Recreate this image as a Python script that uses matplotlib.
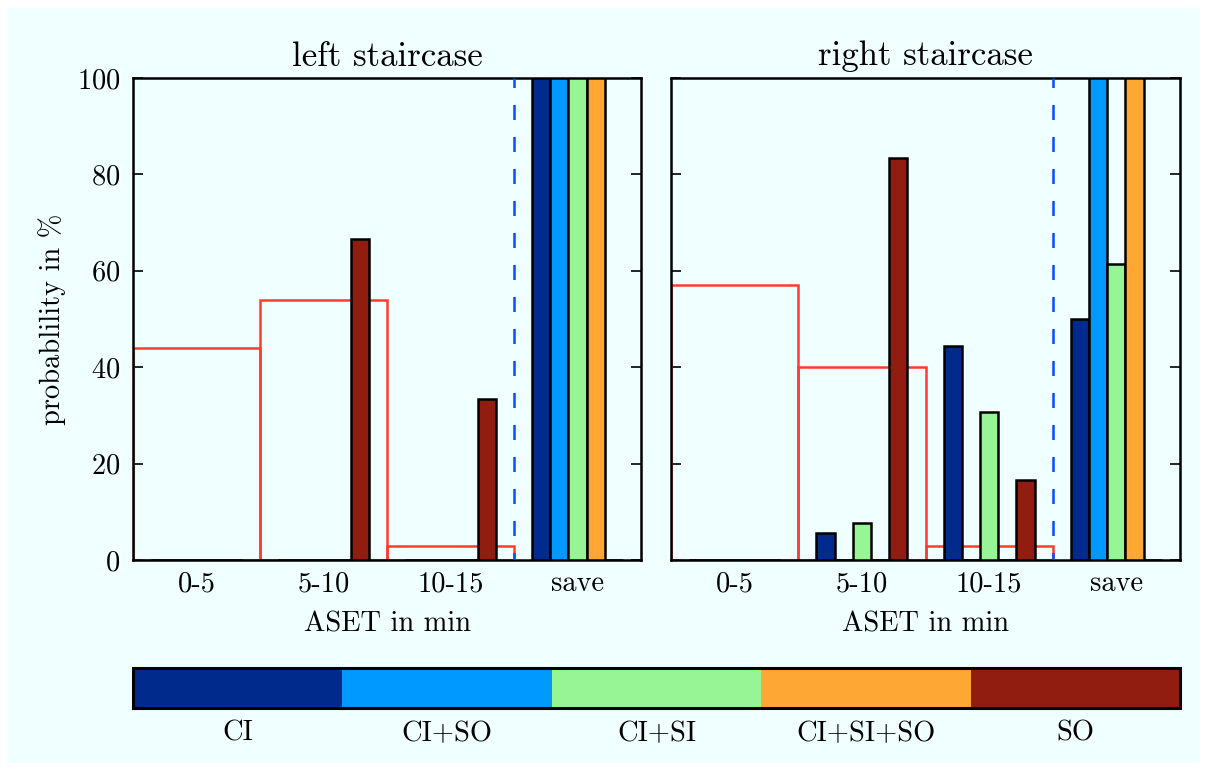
import matplotlib
matplotlib.use("Agg")
import matplotlib.pyplot as plt
import numpy as np
from matplotlib.colors import ListedColormap, BoundaryNorm
from matplotlib.colorbar import ColorbarBase
from matplotlib.patches import Rectangle

plt.rcParams['font.family'] = ['cmr10', 'DejaVu Serif']
plt.rcParams['mathtext.fontset'] = 'cm'
plt.rcParams['axes.formatter.use_mathtext'] = True

# ---- data ----
categories = ["0-5", "5-10", "10-15", "save"]
series = ["CI", "CI+SO", "CI+SI", "CI+SI+SO", "SO"]
colors = ["#002a8c", "#0099ff", "#97f596", "#ffa735", "#911d10"]

left_red = [44, 54, 3]
right_red = [57, 40, 3]

left_vals = {
    "CI":       [0, 0, 0, 100],
    "CI+SO":    [0, 0, 0, 100],
    "CI+SI":    [0, 0, 0, 100],
    "CI+SI+SO": [0, 0, 0, 100],
    "SO":       [0, 66.7, 33.3, 0],
}
right_vals = {
    "CI":       [0, 5.6, 44.4, 50],
    "CI+SO":    [0, 0, 0, 100],
    "CI+SI":    [0, 7.7, 30.8, 61.5],
    "CI+SI+SO": [0, 0, 0, 100],
    "SO":       [0, 83.3, 16.7, 0],
}
titles = ["left staircase", "right staircase"]
yticks = [0, 20, 40, 60, 80, 100]

W, H = 1207, 771
fig = plt.figure(figsize=(W / 100, H / 100), dpi=100, facecolor="white")
fig.patches.append(Rectangle((7 / W, 8 / H), (1199 - 7) / W, (763 - 8) / H,
                             transform=fig.transFigure, facecolor="#f0ffff",
                             edgecolor="none", zorder=-10))

def px_axes(x0, y0, x1, y1):
    return fig.add_axes([x0 / W, 1 - y1 / H, (x1 - x0) / W, (y1 - y0) / H])

ax1 = px_axes(133, 78, 641, 560)
ax2 = px_axes(671, 78, 1180, 560)

fs = 20.5
bw = 1 / 7
x = np.arange(len(categories))
for ax, red, vals, title in [(ax1, left_red, left_vals, titles[0]),
                             (ax2, right_red, right_vals, titles[1])]:
    ax.set_facecolor("#f0ffff")
    ax.bar(np.arange(len(red)), red, width=1.0, fill=False,
           edgecolor="#ff3b2a", linewidth=1.8, zorder=2)
    for i, s in enumerate(series):
        ax.bar(x + (i - 2) * bw, vals[s], width=bw, color=colors[i],
               edgecolor="black", linewidth=1.8, zorder=3)
    ax.axvline(2.5, color="#0050ff", linewidth=1.8,
               linestyle=(3, (6, 6.8)), zorder=4)
    ax.set_xlim(-0.5, 3.5)
    ax.set_ylim(0, 100)
    ax.set_xticks(x)
    ax.set_xticklabels(categories)
    ax.set_yticks(yticks)
    ax.tick_params(axis="x", length=0, pad=8, labelsize=fs)
    ax.tick_params(axis="y", direction="in", length=7, width=1.2,
                   left=True, right=True, pad=9, labelsize=fs)
    for sp in ax.spines.values():
        sp.set_linewidth(1.8)
    ax.set_title(title, fontsize=25, pad=9)
    ax.set_xlabel("ASET in min", fontsize=fs, labelpad=10)

ax1.set_ylabel("probablility in %", fontsize=fs, labelpad=8)
ax2.set_yticklabels([])

cax = px_axes(133, 668, 1180, 708)
cmap = ListedColormap(colors)
norm = BoundaryNorm(np.arange(6), cmap.N)
cb = ColorbarBase(cax, cmap=cmap, norm=norm, orientation="horizontal",
                  ticks=np.arange(5) + 0.5)
cb.set_ticklabels(series)
cb.ax.minorticks_off()
cb.ax.tick_params(which="both", length=0, pad=9, labelsize=fs)
cb.outline.set_linewidth(2.2)

fig.savefig("out.png", dpi=100, facecolor="white")
